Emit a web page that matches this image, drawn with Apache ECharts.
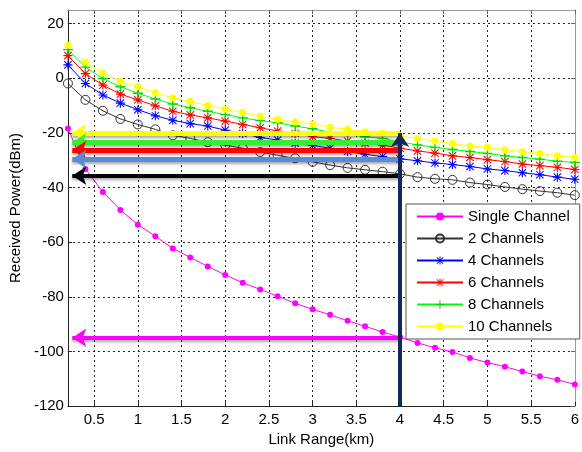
<!DOCTYPE html>
<html><head><meta charset="utf-8">
<script src="https://cdn.jsdelivr.net/npm/echarts@6/dist/echarts.min.js"></script>
<style>html,body{margin:0;padding:0;background:#fff}#c{width:582px;height:452px}</style>
</head><body><div id="c"></div>
<script>
const linkRange = [0.2,0.4,0.6,0.8,1.0,1.2,1.4,1.6,1.8,2.0,2.2,2.4,2.6,2.8,3.0,3.2,3.4,3.6,3.8,4.0,4.2,4.4,4.6,4.8,5.0,5.2,5.4,5.6,5.8,6.0];
const xTicks = [0.5,1,1.5,2,2.5,3,3.5,4,4.5,5,5.5,6];
const yTicks = [-120,-100,-80,-60,-40,-20,0,20];
const seriesNames = ['Single Channel','2 Channels','4 Channels','6 Channels','8 Channels','10 Channels'];
const singleChannel = [-18.4,-33.2,-41.6,-48.2,-53.6,-57.8,-62.3,-65.6,-68.9,-72.0,-74.9,-77.3,-79.8,-82.4,-84.6,-86.6,-88.8,-90.8,-92.9,-94.8,-96.9,-98.7,-100.2,-102.4,-104.1,-105.6,-107.4,-109.1,-110.4,-112.1];
const ch2 = [-1.9,-7.9,-11.9,-14.9,-16.9,-18.7,-20.9,-22.0,-23.4,-24.5,-25.6,-27.0,-28.2,-29.3,-30.6,-31.8,-32.8,-33.5,-34.2,-35.0,-36.2,-36.8,-37.2,-38.2,-38.9,-39.8,-40.6,-41.3,-41.9,-42.8];
const ch4 = [4.9,-1.9,-6.1,-9.1,-11.5,-13.7,-15.4,-16.6,-17.5,-19.0,-20.2,-21.7,-22.6,-23.8,-24.6,-25.6,-26.8,-27.8,-28.7,-29.5,-30.2,-31.0,-31.6,-32.3,-33.2,-33.8,-34.6,-35.3,-36.2,-37.0];
const ch6 = [8.3,1.7,-2.5,-5.8,-7.9,-10.1,-12.1,-13.4,-14.5,-15.7,-16.9,-18.1,-19.3,-20.2,-21.4,-22.0,-23.0,-23.8,-24.5,-25.6,-26.6,-27.4,-28.4,-29.0,-29.8,-30.5,-31.4,-32.0,-32.6,-33.4];
const ch8 = [10.5,4.1,-0.1,-3.1,-5.5,-7.6,-9.4,-10.8,-12.1,-13.3,-14.5,-15.5,-16.3,-17.5,-18.5,-19.7,-20.5,-21.4,-22.0,-23.3,-24.4,-25.3,-26.1,-26.8,-27.5,-28.4,-29.0,-29.6,-30.4,-30.8];
const ch10 = [12.1,5.9,1.9,-1.1,-3.1,-5.3,-7.1,-8.5,-10.0,-11.3,-12.5,-13.9,-15.1,-16.0,-16.7,-17.9,-18.7,-19.6,-20.1,-21.1,-22.1,-23.0,-23.9,-24.8,-25.3,-26.2,-26.9,-27.5,-28.4,-29.0];
const markRange = 4;
const arrowTipX = 0.25;
const arrowLevels = [-20, -23.5, -26.3, -29.6, -35.7, -95];
const verticalSpan = [-120, -20];

const FONT = "'Liberation Sans', Arial, sans-serif";
const asterisk = 'path://M4.4,0L5.6,0L5.6,10L4.4,10Z M0,4.4L10,4.4L10,5.6L0,5.6Z M1.3,0.5L9.5,8.7L8.7,9.5L0.5,1.3Z M8.7,0.5L9.5,1.3L1.3,9.5L0.5,8.7Z';
const plus = 'path://M4.3,0L5.7,0L5.7,10L4.3,10Z M0,4.3L10,4.3L10,5.7L0,5.7Z';

const pts = arr => linkRange.map((x, i) => [x, arr[i]]);
const styles = [
  {data: singleChannel, color: '#ff00ff', symbol: 'circle', size: 6, fill: '#ff00ff'},
  {data: ch2, color: '#333333', symbol: 'circle', size: 9, fill: 'rgba(0,0,0,0)', border: '#333333'},
  {data: ch4, color: '#0000ff', symbol: asterisk, size: 9, fill: '#0000ff'},
  {data: ch6, color: '#ff0000', symbol: asterisk, size: 9, fill: '#ff0000'},
  {data: ch8, color: '#00ff00', symbol: plus, size: 10, fill: '#00dd00'},
  {data: ch10, color: '#ffff00', symbol: 'circle', size: 7, fill: '#ffff00'}
];
const series = styles.map((s, i) => ({
  name: seriesNames[i], type: 'line', data: pts(s.data),
  symbol: s.symbol, symbolSize: s.size, showSymbol: true,
  lineStyle: {color: s.color, width: 1},
  itemStyle: s.border ? {color: s.fill, borderColor: s.border, borderWidth: 1} : {color: s.fill},
  z: 2
}));
const arrowColors = ['#ffff00', '#33ee33', '#ff0000', '#558ed5', '#000000', '#ff00ff'];
const arrowWidths = [5, 5, 5, 5, 4, 4];
series.push({
  type: 'line', name: 'arrows', data: [], z: 5, silent: true,
  markLine: {
    silent: true, animation: false, symbol: ['none', 'arrow'], symbolSize: [14, 14],
    label: {show: false}, emphasis: {disabled: true},
    data: arrowLevels.map((v, i) => [
      {coord: [markRange, v], lineStyle: {color: arrowColors[i], width: arrowWidths[i], type: 'solid', shadowBlur: 3, shadowColor: 'rgba(0,0,0,0.35)', shadowOffsetY: 2}, itemStyle: {color: arrowColors[i]}},
      {coord: [arrowTipX, v]}
    ]).concat([[
      {coord: [markRange, verticalSpan[0]], lineStyle: {color: '#10295a', width: 4, type: 'solid'}, itemStyle: {color: '#10295a'}},
      {coord: [markRange, verticalSpan[1]]}
    ]])
  }
});

const chart = echarts.init(document.getElementById('c'), null, {renderer: 'canvas'});
chart.setOption({
  animation: false,
  backgroundColor: '#ffffff',
  grid: {left: 67, top: 10, right: 4, bottom: 41, containLabel: false},
  legend: {
    data: seriesNames, orient: 'vertical', left: 406, top: 204,
    itemWidth: 46, itemHeight: 10, itemGap: 7,
    padding: [5, 10, 5, 10],
    backgroundColor: '#ffffff', borderColor: '#555', borderWidth: 1, borderRadius: 0,
    textStyle: {fontFamily: FONT, fontSize: 15, color: '#000'}
  },
  xAxis: [{
    type: 'value', min: 0.2, max: 6,
    name: 'Link Range(km)', nameLocation: 'middle', nameGap: 26,
    nameTextStyle: {fontFamily: FONT, fontSize: 15, color: '#000'},
    axisLine: {show: true, onZero: false, lineStyle: {color: '#222', width: 1}},
    axisTick: {show: true, inside: true, length: 4, customValues: xTicks, lineStyle: {color: '#222'}},
    axisLabel: {customValues: xTicks, fontFamily: FONT, fontSize: 15, color: '#000', margin: 6, formatter: v => String(v)},
    splitLine: {show: true, lineStyle: {color: '#222', type: [2, 3], width: 1}}
  }, {
    type: 'value', min: 0.2, max: 6, position: 'top',
    axisLine: {show: true, onZero: false, lineStyle: {color: '#999', width: 1}},
    axisTick: {show: true, inside: true, length: 4, customValues: xTicks, lineStyle: {color: '#666'}},
    axisLabel: {show: false}, splitLine: {show: false}
  }],
  yAxis: [{
    type: 'value', min: -120, max: 25, interval: 20,
    name: 'Received Power(dBm)', nameLocation: 'middle', nameGap: 43,
    nameTextStyle: {fontFamily: FONT, fontSize: 15, color: '#000'},
    axisLine: {show: true, onZero: false, lineStyle: {color: '#222', width: 1}},
    axisTick: {show: true, inside: true, length: 4, customValues: yTicks, lineStyle: {color: '#222'}},
    axisLabel: {customValues: yTicks, fontFamily: FONT, fontSize: 15, color: '#000', margin: 4},
    splitLine: {show: true, lineStyle: {color: '#222', type: [2, 3], width: 1}}
  }, {
    type: 'value', min: -120, max: 25, interval: 20, position: 'right',
    axisLine: {show: true, onZero: false, lineStyle: {color: '#999', width: 1}},
    axisTick: {show: true, inside: true, length: 4, customValues: yTicks, lineStyle: {color: '#666'}},
    axisLabel: {show: false}, splitLine: {show: false}
  }],
  series: series
});
</script></body></html>
